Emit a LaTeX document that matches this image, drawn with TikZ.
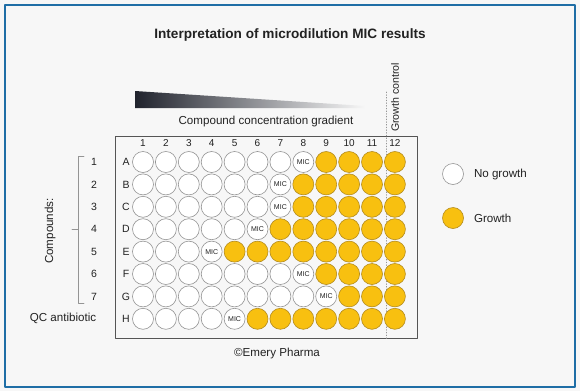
\documentclass[tikz,border=0pt]{standalone}
\usepackage{fontspec}
\setmainfont{Liberation Sans}
\usetikzlibrary{positioning}
\definecolor{growth}{HTML}{F8C010}
\definecolor{growthedge}{HTML}{B38B1E}
\definecolor{welledge}{HTML}{949494}
\definecolor{frameblue}{HTML}{1F6EA6}
\definecolor{paper}{HTML}{F7F7F7}
\definecolor{txt}{HTML}{222222}
\definecolor{graddark}{HTML}{20232D}
\definecolor{plateedge}{HTML}{555555}

\tikzset{
  well/.style={circle,draw=welledge,fill=white,minimum size=21pt,inner sep=0pt,line width=0.6pt},
  grown/.style={well,draw=growthedge,fill=growth},
  mic/.style={well,font=\fontsize{7}{7}\selectfont,text=txt},
  lab/.style={font=\fontsize{10}{11}\selectfont,text=txt,inner sep=1pt},
  biglab/.style={font=\fontsize{11.6}{13}\selectfont,text=txt,inner sep=1pt}
}

\begin{document}
\begin{tikzpicture}[line cap=round,line join=round,x=1pt,y=-1pt]
\fill[paper] (0,0) rectangle (580,391);
\useasboundingbox (0,0) rectangle (580,391);
\draw[frameblue,line width=2pt] (4.5,4.5) rectangle (575,387);

\node[font=\bfseries\fontsize{13.6}{15}\selectfont,text=txt] (title) at (290,35) {Interpretation of microdilution MIC results};

% concentration wedge
\shade[left color=graddark,right color=paper] (135,91) -- (365,106) -- (365,108) -- (135,108) -- cycle;
\node[biglab] (gradient) at (266,121) {Compound concentration gradient};

% plate
\draw[plateedge,line width=0.9pt] (115,136) rectangle (417,338);
\draw[welledge,dotted,line width=0.7pt] (386,92) -- (386,339);
\node[biglab,font=\fontsize{10.6}{12}\selectfont,rotate=90] (control) at (395,97.5) {Growth control};

\foreach \c in {1,...,12}
  \node[lab] (col-\c) at ({143+22.9*(\c-1)},143.5) {\c};

\foreach \r/\m [count=\i from 0] in {A/8,B/7,C/7,D/6,E/4,F/8,G/9,H/5}{
  \node[lab,font=\fontsize{10.5}{11}\selectfont] (row-\r) at (126,{162+22.4*\i}) {\r};
  \foreach \c in {1,...,12}{
    \ifnum\c<\m
      \node[well] (w-\r-\c) at ({143+22.9*(\c-1)},{162+22.4*\i}) {};
    \else\ifnum\c=\m
      \node[mic] (w-\r-\c) at ({143+22.9*(\c-1)},{162+22.4*\i}) {MIC};
    \else
      \node[grown] (w-\r-\c) at ({143+22.9*(\c-1)},{162+22.4*\i}) {};
    \fi\fi
  }
}

% compounds
\foreach \n in {1,...,7}
  \node[lab,font=\fontsize{10.5}{11}\selectfont] (cmp-\n) at (94,{162+22.4*(\n-1)}) {\n};
\draw[welledge,line width=0.7pt] (84,156) -- (78,156) -- (78,303) -- (84,303);
\draw[welledge,line width=0.7pt] (78,229.5) -- (72,229.5);
\node[biglab,rotate=90] (compounds) at (50,231) {Compounds:};
\node[biglab] (qc) at (63,318) {QC antibiotic};

% legend
\node[well] (leg-no) at (453,174) {};
\node[biglab,right=9pt of leg-no] (leg-no-txt) {No growth};
\node[grown] (leg-yes) at (453,218) {};
\node[biglab,right=9pt of leg-yes] (leg-yes-txt) {Growth};

\node[biglab] (copy) at (277,353) {\textcopyright Emery Pharma};
\end{tikzpicture}
\end{document}
